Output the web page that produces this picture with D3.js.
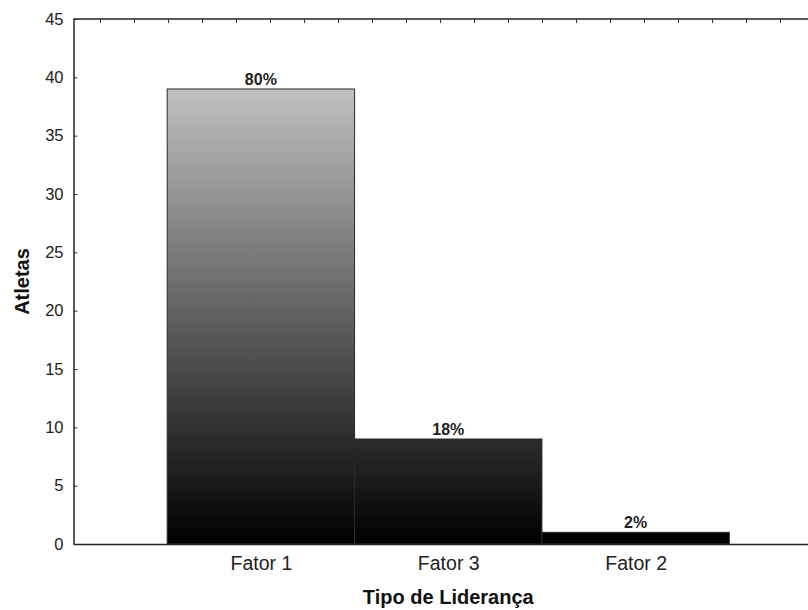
<!DOCTYPE html>
<html>
<head>
<meta charset="utf-8">
<script src="https://cdn.jsdelivr.net/npm/d3@7"></script>
<style>
  html, body { margin: 0; padding: 0; background: #fff; }
  svg { display: block; font-family: "Liberation Sans", Arial, sans-serif; }
</style>
</head>
<body>
<svg id="chart" width="808" height="610"></svg>
<script>
// Athletes per leadership type
const categories = ["Fator 1", "Fator 3", "Fator 2"];
const athletes = [39, 9, 1];
const shareLabels = ["80%", "18%", "2%"];
const yTicks = [0, 5, 10, 15, 20, 25, 30, 35, 40, 45];

const svg = d3.select("#chart");
const plot = { left: 73.5, top: 19, bottom: 544, right: 823 };

// categories sit at 1, 2, 3 on a continuous axis running 0..4
const x = d3.scaleLinear().domain([0, 4]).range([plot.left, plot.right]);
const y = d3.scaleLinear().domain([0, 45]).range([plot.bottom, plot.top]);

// vertical gray ramp shared by every bar, black at zero
const defs = svg.append("defs");
const grad = defs.append("linearGradient")
  .attr("id", "barFill")
  .attr("gradientUnits", "userSpaceOnUse")
  .attr("x1", 0).attr("x2", 0)
  .attr("y1", y(0)).attr("y2", y(45));
grad.append("stop").attr("offset", 0).attr("stop-color", "#000000");
grad.append("stop").attr("offset", 1).attr("stop-color", "#dedede");

// bars
const data = categories.map((c, i) => ({ c, v: athletes[i], label: shareLabels[i], pos: i + 1 }));
svg.append("g").selectAll("rect")
  .data(data)
  .join("rect")
  .attr("x", d => x(d.pos - 0.5))
  .attr("width", d => x(d.pos + 0.5) - x(d.pos - 0.5))
  .attr("y", d => y(d.v))
  .attr("height", d => y(0) - y(d.v))
  .attr("fill", "url(#barFill)")
  .attr("stroke", "#2a2a2a")
  .attr("stroke-width", 1);

// percentage labels above the bars
svg.append("g").selectAll("text")
  .data(data)
  .join("text")
  .attr("x", d => x(d.pos))
  .attr("y", d => y(d.v) - 4.5)
  .attr("text-anchor", "middle")
  .attr("font-size", 16)
  .attr("font-weight", "bold")
  .attr("fill", "#222")
  .text(d => d.label);

// left axis: inward ticks, labels outside
const yAxis = d3.axisLeft(y).tickValues(yTicks).tickSizeInner(-4).tickSizeOuter(0).tickPadding(10);
const gy = svg.append("g").attr("transform", `translate(${plot.left},0)`).call(yAxis);
gy.select(".domain").attr("stroke", "#222").attr("stroke-width", 1.5);
gy.selectAll(".tick line").attr("stroke", "#333");
gy.selectAll(".tick text").attr("font-size", 16.5).attr("fill", "#222")
  .attr("font-family", "Liberation Sans, Arial, sans-serif");

// bottom axis: category names, no ticks
const xAxis = d3.axisBottom(x).tickValues(data.map(d => d.pos))
  .tickFormat((d, i) => categories[i]).tickSize(0).tickSizeOuter(0).tickPadding(12);
const gx = svg.append("g").attr("transform", `translate(0,${plot.bottom})`).call(xAxis);
gx.select(".domain").attr("stroke", "#222").attr("stroke-width", 1.5);
gx.selectAll(".tick text").attr("font-size", 19.5).attr("fill", "#222")
  .attr("font-family", "Liberation Sans, Arial, sans-serif");

// top frame with small inward minor ticks
const topScale = d3.scaleLinear().domain([0, 21]).range([100, 814]);
const topAxis = d3.axisTop(topScale).tickValues(d3.range(0, 22)).tickFormat("")
  .tickSizeInner(-4).tickSizeOuter(0);
const gt = svg.append("g").attr("transform", `translate(0,${plot.top})`).call(topAxis);
gt.select(".domain").attr("stroke", "#222").attr("stroke-width", 1.5)
  .attr("d", `M${plot.left},0H${plot.right}`);
gt.selectAll(".tick line").attr("stroke", "#333");

// axis titles
svg.append("text")
  .attr("x", x(2))
  .attr("y", 604)
  .attr("text-anchor", "middle")
  .attr("font-size", 20)
  .attr("font-weight", "bold")
  .attr("fill", "#111")
  .text("Tipo de Liderança");

svg.append("text")
  .attr("transform", `translate(28.5,${(plot.top + plot.bottom) / 2}) rotate(-90)`)
  .attr("text-anchor", "middle")
  .attr("font-size", 20)
  .attr("font-weight", "bold")
  .attr("fill", "#111")
  .text("Atletas");
</script>
</body>
</html>
